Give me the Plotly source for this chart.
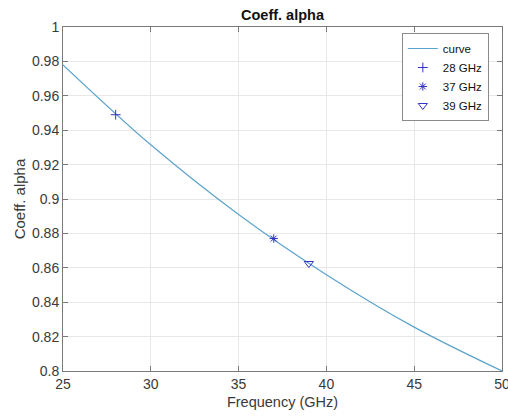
import plotly.graph_objects as go

# Curve values
freq_curve = [25, 30, 35, 40, 45, 50]
alpha_curve = [0.978, 0.9315, 0.891, 0.856, 0.8255, 0.800]

# Marker points
marker_names = ["28 GHz", "37 GHz", "39 GHz"]
marker_freq = [28, 37, 39]
marker_alpha = [0.949, 0.877, 0.8625]
marker_symbols = ["cross-thin", "asterisk", "triangle-down-open"]
marker_sizes = [7, 7, 8]

x_ticks = [25, 30, 35, 40, 45, 50]
y_ticks = [0.8, 0.82, 0.84, 0.86, 0.88, 0.9, 0.92, 0.94, 0.96, 0.98, 1.0]
y_ticktext = ["0.8", "0.82", "0.84", "0.86", "0.88", "0.9", "0.92", "0.94", "0.96", "0.98", "1"]

FONT = "Liberation Sans, Arial, sans-serif"
mk_color = "#3333c0"

fig = go.Figure()
fig.add_trace(go.Scatter(x=freq_curve, y=alpha_curve, mode="lines", name="curve",
                         line=dict(color="#5ca3cc", width=1.2, shape="spline", smoothing=1)))
for name, fx, fy, sym, sz in zip(marker_names, marker_freq, marker_alpha, marker_symbols, marker_sizes):
    fig.add_trace(go.Scatter(x=[fx], y=[fy], mode="markers", name=name,
                             marker=dict(symbol=sym, size=sz, color=mk_color,
                                         line=dict(color=mk_color, width=1))))

axis_common = dict(showline=True, linecolor="#7a7a7a", linewidth=1, mirror="ticks",
                   ticks="inside", ticklen=5, tickcolor="#7a7a7a",
                   showgrid=True, gridcolor="#e8e8e8", gridwidth=1, zeroline=False,
                   ticklabeloverflow="allow", automargin=False,
                   tickfont=dict(family=FONT, size=14, color="#3a3a3a"))

fig.update_xaxes(range=[25, 50], tickvals=x_ticks, **axis_common,
                 title=dict(text="Frequency (GHz)", font=dict(family=FONT, size=14.5, color="#3a3a3a"),
                            standoff=6))
fig.update_yaxes(range=[0.8, 1.0], tickvals=y_ticks, ticktext=y_ticktext, **axis_common,
                 title=dict(text="Coeff. alpha", font=dict(family=FONT, size=15, color="#3a3a3a"),
                            standoff=2))

fig.update_layout(
    width=508, height=417,
    margin=dict(l=63, r=6, t=27, b=46, autoexpand=False),
    paper_bgcolor="white", plot_bgcolor="white",
    title=dict(text="<b>Coeff. alpha</b>", x=(282.5) / 508, xanchor="center",
               y=1 - 15 / 417, yanchor="middle",
               font=dict(family=FONT, size=14.5, color="#111111")),
    legend=dict(x=0.970, y=0.9826, xanchor="right", yanchor="top",
                bordercolor="#8a8a8a", borderwidth=1, bgcolor="white",
                font=dict(family=FONT, size=11.5, color="#111111"),
                itemwidth=30, tracegroupgap=0),
    showlegend=True,
)

fig.write_html("out.html")
